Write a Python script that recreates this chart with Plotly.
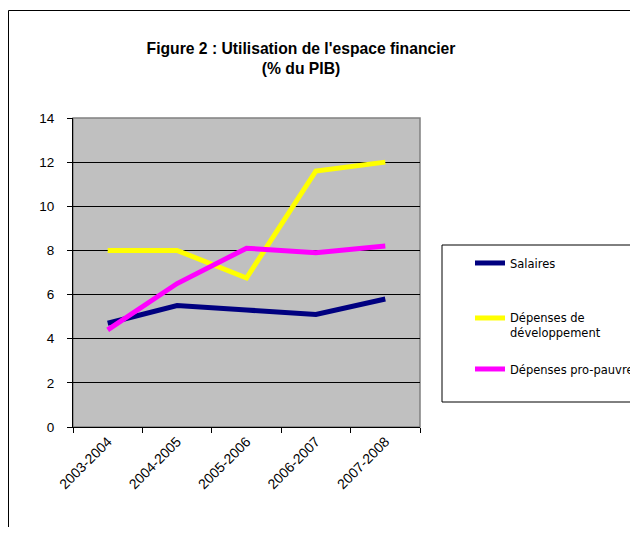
import plotly.graph_objects as go

categories = ["2003-2004", "2004-2005", "2005-2006", "2006-2007", "2007-2008"]
salaires = [4.7, 5.5, 5.3, 5.1, 5.8]
developpement = [8.0, 8.0, 6.75, 11.6, 12.0]
pro_pauvres = [4.4, 6.5, 8.1, 7.9, 8.2]
series_names = ["Salaires", "Dépenses de<br>développement", "Dépenses pro-pauvres"]
series_colors = ["#000080", "#FFFF00", "#FF00FF"]
y_ticks = [0, 2, 4, 6, 8, 10, 12, 14]

FONT = "Liberation Sans, Arial, sans-serif"
LFONT = "DejaVu Sans, Verdana, sans-serif"

OFF = 8  # page body margin
W, H = 638 - OFF, 535 - 2 * OFF
PL, PR, PT, PB = 73 - OFF, 420 - OFF, 118 - OFF, 427 - OFF  # plot area (figure px)
pw, ph = PR - PL, PB - PT


def px(x):  # reference x pixel -> paper
    return (x - OFF - PL) / pw


def py(y):  # reference y pixel -> paper
    return (PB - (y - OFF)) / ph


legend_names = ["legend", "legend2", "legend3"]
fig = go.Figure()
for vals, name, col, lg in zip([salaires, developpement, pro_pauvres], series_names, series_colors, legend_names):
    fig.add_trace(go.Scatter(x=categories, y=vals, mode="lines", name=name,
                             line=dict(color=col, width=5), legend=lg))

shapes = [
    dict(type="rect", xref="paper", yref="paper", x0=px(8.5), x1=px(700), y0=py(600), y1=py(10.5),
         line=dict(color="black", width=1), fillcolor="rgba(0,0,0,0)", layer="below"),
    dict(type="rect", xref="paper", yref="paper", x0=0, x1=1, y0=0, y1=1,
         line=dict(color="#808080", width=1.5), fillcolor="rgba(0,0,0,0)", layer="below"),
    dict(type="rect", xref="paper", yref="paper", x0=px(442), x1=px(700), y0=py(402), y1=py(245),
         line=dict(color="black", width=1), fillcolor="rgba(0,0,0,0)"),
]

legend_rows = [259, 314, 365]  # reference y (top) of each legend row
legend_common = dict(xanchor="left", yanchor="top", font=dict(size=11.5, family=LFONT, color="black"),
                     bgcolor="rgba(0,0,0,0)", borderwidth=0, valign="top")
legends = {}
for lg, row in zip(legend_names, legend_rows):
    legends[lg] = dict(x=px(470), y=py(row - 10), **legend_common)

fig.update_layout(
    width=W, height=H,
    margin=dict(l=PL, r=W - PR, t=PT, b=H - PB, autoexpand=False),
    paper_bgcolor="white",
    plot_bgcolor="#C0C0C0",
    font=dict(family=FONT, color="black"),
    title=dict(text="<b>Figure 2 : Utilisation de l'espace financier<br>(% du PIB)</b>",
               x=px(301), xanchor="center", xref="paper",
               y=1 - (54 - OFF) / H, yanchor="middle", yref="container",
               font=dict(size=15.7, family=FONT, color="black")),
    showlegend=True,
    shapes=shapes,
    xaxis=dict(type="category", tickson="boundaries", ticks="outside", ticklen=5,
               tickcolor="black", showline=True, linecolor="black", linewidth=1,
               showgrid=False, tickangle=-45, tickfont=dict(size=14, color="black"),
               range=[-0.5, 4.5], automargin=False),
    yaxis=dict(range=[0, 14], tickvals=y_ticks, ticks="outside", ticklen=5,
               tickcolor="black", showline=True, linecolor="black", linewidth=1,
               showgrid=True, gridcolor="black", gridwidth=1, zeroline=False,
               tickfont=dict(size=13.5, color="black"), ticklabelstandoff=10,
               automargin=False),
    **legends,
)

fig.write_html("out.html")
